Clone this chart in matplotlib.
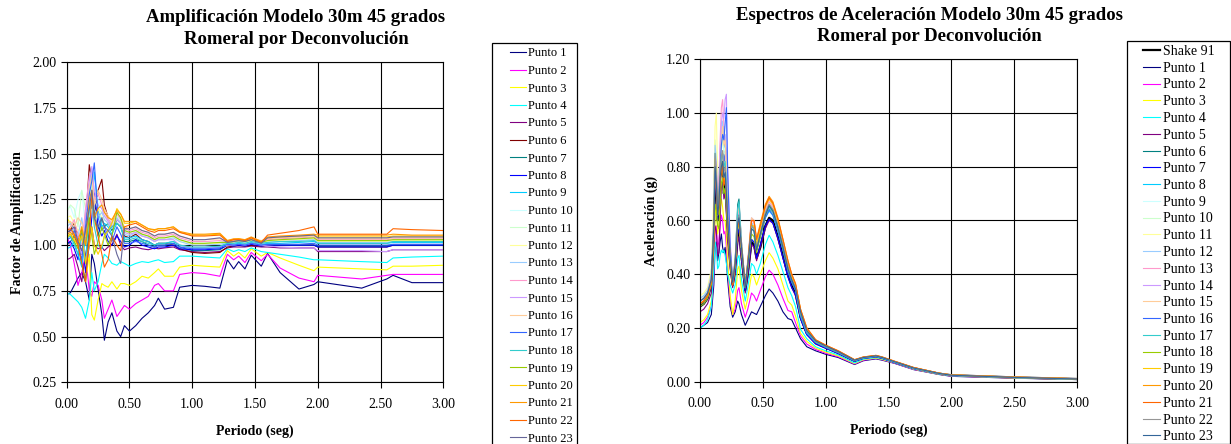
"""Amplification factors and acceleration spectra for the 30 m / 45 degree model (Romeral, deconvolution)."""

from __future__ import annotations

import matplotlib

matplotlib.use("Agg")
import matplotlib.pyplot as plt
from matplotlib.patches import Rectangle

# ---------------------------------------------------------------- amplification
AMP_PERIOD = [0.00, 0.03, 0.06, 0.09, 0.12, 0.15, 0.18, 0.20, 0.22, 0.25, 0.28, 0.30, 0.33, 0.36, 0.40,
              0.43, 0.46, 0.50, 0.55, 0.60, 0.65, 0.70, 0.73, 0.78, 0.85, 0.90, 1.00, 1.10, 1.22, 1.28,
              1.33, 1.37, 1.42, 1.47, 1.55, 1.60, 1.70, 1.85, 1.97, 2.00, 2.35, 2.55, 2.60, 2.75, 3.00]

AMP_P01 = [0.73, 0.74, 0.78, 0.82, 0.85, 0.80, 0.70, 0.95, 0.90, 0.76, 0.62, 0.48, 0.58, 0.63, 0.53,
           0.50, 0.56, 0.53, 0.56, 0.60, 0.63, 0.67, 0.71, 0.65, 0.66, 0.77, 0.78, 0.775, 0.765, 0.92,
           0.87, 0.91, 0.87, 0.945, 0.885, 0.955, 0.85, 0.76, 0.785, 0.80, 0.765, 0.815, 0.835, 0.795, 0.795]
AMP_P02 = [1.05, 1.00, 0.90, 0.78, 0.85, 0.95, 0.75, 0.72, 0.80, 0.78, 0.70, 0.60, 0.65, 0.70, 0.61,
           0.64, 0.67, 0.65, 0.68, 0.70, 0.72, 0.78, 0.79, 0.75, 0.75, 0.84, 0.85, 0.845, 0.83, 0.95,
           0.92, 0.94, 0.905, 0.96, 0.915, 0.95, 0.875, 0.82, 0.80, 0.835, 0.815, 0.835, 0.84, 0.84, 0.84]
AMP_P03 = [1.15, 1.12, 1.05, 1.00, 0.90, 0.80, 0.95, 0.62, 0.59, 0.70, 0.79, 0.78, 0.77, 0.80, 0.76,
           0.79, 0.79, 0.78, 0.80, 0.83, 0.82, 0.85, 0.87, 0.83, 0.83, 0.88, 0.89, 0.885, 0.88, 0.97,
           0.94, 0.96, 0.93, 0.98, 0.94, 0.96, 0.93, 0.89, 0.86, 0.88, 0.87, 0.865, 0.885, 0.885, 0.89]
AMP_P04 = [0.74, 0.73, 0.71, 0.69, 0.66, 0.60, 0.70, 0.85, 0.75, 0.80, 0.90, 0.95, 0.93, 0.90, 0.89,
           0.91, 0.90, 0.885, 0.90, 0.91, 0.905, 0.915, 0.92, 0.905, 0.91, 0.94, 0.94, 0.935, 0.93, 0.98,
           0.965, 0.975, 0.965, 0.985, 0.965, 0.96, 0.95, 0.935, 0.92, 0.92, 0.91, 0.905, 0.93, 0.935, 0.94]
AMP_P05 = [0.92, 0.93, 0.95, 0.88, 0.80, 0.95, 1.05, 1.10, 1.00, 0.98, 0.99, 0.97, 0.99, 1.00, 1.06,
           1.00, 0.975, 0.985, 0.99, 0.98, 0.975, 0.985, 0.98, 0.985, 0.99, 0.975, 0.965, 0.96, 0.965, 0.985,
           0.99, 0.99, 0.99, 0.995, 0.99, 0.99, 0.985, 0.985, 0.985, 0.965, 0.965, 0.965, 0.975, 0.975, 0.975]
AMP_P06 = [1.07, 1.08, 1.12, 1.05, 0.95, 1.10, 1.44, 1.35, 1.15, 1.30, 1.36, 1.22, 1.15, 1.10, 1.12,
           1.10, 1.05, 1.04, 1.06, 1.03, 1.02, 1.00, 1.01, 1.01, 1.00, 0.98, 0.96, 0.955, 0.96, 0.99,
           0.995, 1.00, 0.995, 1.00, 0.995, 1.00, 1.00, 1.00, 1.00, 0.99, 0.99, 0.99, 1.00, 1.00, 1.00]
AMP_P07 = [1.00, 1.02, 1.05, 1.00, 0.90, 0.80, 1.10, 1.38, 1.20, 1.05, 1.15, 1.10, 1.12, 1.08, 1.14,
           1.12, 1.02, 1.02, 1.03, 1.02, 1.00, 0.99, 1.00, 1.00, 1.01, 0.99, 0.97, 0.97, 0.975, 1.00,
           1.00, 1.005, 1.00, 1.01, 1.00, 1.00, 1.00, 1.00, 1.00, 0.995, 0.995, 0.995, 1.00, 1.00, 1.00]
AMP_P08 = [1.01, 1.02, 0.98, 0.92, 1.10, 0.85, 1.00, 1.15, 1.30, 1.10, 1.05, 1.08, 1.02, 1.00, 1.05,
           1.02, 0.99, 1.00, 1.03, 1.00, 0.99, 0.98, 0.99, 0.99, 1.00, 0.98, 0.975, 0.975, 0.98, 1.00,
           0.995, 1.00, 0.995, 1.005, 0.995, 1.00, 1.00, 1.00, 1.00, 0.99, 0.99, 0.99, 1.00, 1.00, 1.00]
AMP_P09 = [0.98, 0.99, 1.02, 0.95, 0.88, 1.05, 1.25, 1.20, 1.40, 1.20, 1.10, 1.12, 1.10, 1.06, 1.12,
           1.10, 1.04, 1.04, 1.05, 1.03, 1.02, 1.00, 1.01, 1.01, 1.02, 1.00, 0.985, 0.985, 0.99, 1.01,
           1.005, 1.01, 1.005, 1.015, 1.005, 1.01, 1.01, 1.015, 1.02, 1.01, 1.01, 1.01, 1.015, 1.015, 1.015]
AMP_P10 = [1.20, 1.21, 1.15, 1.25, 1.30, 1.10, 1.20, 1.40, 1.30, 1.25, 1.20, 1.18, 1.15, 1.12, 1.16,
           1.14, 1.08, 1.07, 1.08, 1.06, 1.05, 1.03, 1.04, 1.04, 1.05, 1.03, 1.01, 1.01, 1.015, 1.02,
           1.02, 1.025, 1.02, 1.03, 1.02, 1.025, 1.03, 1.035, 1.04, 1.025, 1.025, 1.025, 1.03, 1.03, 1.03]
AMP_P11 = [1.18, 1.22, 1.20, 1.10, 1.30, 1.20, 1.15, 1.35, 1.25, 1.20, 1.18, 1.16, 1.14, 1.11, 1.15,
           1.13, 1.08, 1.07, 1.08, 1.06, 1.05, 1.03, 1.04, 1.04, 1.05, 1.03, 1.01, 1.01, 1.015, 1.02,
           1.02, 1.025, 1.02, 1.03, 1.02, 1.025, 1.03, 1.03, 1.035, 1.02, 1.02, 1.02, 1.025, 1.025, 1.025]
AMP_P12 = [1.15, 1.16, 1.12, 1.08, 1.10, 1.05, 1.30, 1.25, 1.10, 1.20, 1.15, 1.14, 1.12, 1.10, 1.15,
           1.12, 1.07, 1.06, 1.07, 1.05, 1.04, 1.02, 1.03, 1.03, 1.04, 1.02, 1.005, 1.005, 1.01, 1.015,
           1.015, 1.02, 1.015, 1.025, 1.015, 1.02, 1.025, 1.03, 1.035, 1.02, 1.02, 1.02, 1.025, 1.025, 1.025]
AMP_P13 = [1.10, 1.12, 1.08, 1.05, 1.15, 1.00, 1.30, 1.42, 1.20, 1.15, 1.18, 1.14, 1.12, 1.09, 1.15,
           1.12, 1.06, 1.05, 1.07, 1.05, 1.04, 1.02, 1.03, 1.03, 1.04, 1.02, 1.00, 1.00, 1.005, 1.015,
           1.01, 1.02, 1.01, 1.02, 1.01, 1.015, 1.02, 1.025, 1.03, 1.015, 1.015, 1.015, 1.02, 1.02, 1.02]
AMP_P14 = [1.08, 1.10, 1.14, 1.05, 1.00, 1.20, 1.38, 1.40, 1.25, 1.28, 1.22, 1.18, 1.14, 1.12, 1.17,
           1.14, 1.09, 1.08, 1.09, 1.07, 1.06, 1.04, 1.05, 1.05, 1.06, 1.04, 1.02, 1.02, 1.025, 1.02,
           1.025, 1.03, 1.025, 1.035, 1.02, 1.03, 1.035, 1.04, 1.045, 1.03, 1.03, 1.03, 1.035, 1.035, 1.035]
AMP_P15 = [1.06, 1.07, 1.10, 1.02, 0.95, 1.15, 1.35, 1.43, 1.30, 1.22, 1.20, 1.16, 1.13, 1.10, 1.14,
           1.12, 1.07, 1.06, 1.07, 1.05, 1.04, 1.02, 1.03, 1.03, 1.03, 1.00, 0.985, 0.985, 0.99, 1.00,
           1.00, 1.005, 1.00, 1.01, 1.00, 0.995, 0.99, 0.985, 0.985, 0.97, 0.97, 0.965, 0.975, 0.975, 0.975]
AMP_P16 = [1.12, 1.13, 1.10, 1.15, 1.12, 1.05, 1.32, 1.38, 1.22, 1.30, 1.25, 1.20, 1.16, 1.13, 1.18,
           1.15, 1.10, 1.09, 1.10, 1.08, 1.07, 1.05, 1.06, 1.06, 1.07, 1.05, 1.03, 1.03, 1.035, 1.025,
           1.03, 1.035, 1.03, 1.04, 1.025, 1.035, 1.04, 1.045, 1.05, 1.035, 1.035, 1.035, 1.04, 1.04, 1.04]
AMP_P17 = [1.03, 1.04, 1.08, 1.00, 0.92, 1.10, 1.28, 1.35, 1.45, 1.15, 1.08, 1.10, 1.05, 1.02, 1.10,
           1.06, 1.01, 1.01, 1.02, 1.01, 1.00, 0.99, 1.00, 1.00, 1.01, 0.99, 0.98, 0.98, 0.985, 1.005,
           1.00, 1.005, 1.00, 1.01, 1.00, 1.005, 1.005, 1.005, 1.01, 1.00, 1.00, 1.00, 1.005, 1.005, 1.005]
AMP_P18 = [1.04, 1.05, 1.00, 0.95, 1.05, 0.90, 1.20, 1.25, 1.10, 1.00, 0.98, 1.05, 1.08, 1.10, 1.12,
           1.10, 1.03, 1.03, 1.04, 1.02, 1.01, 1.00, 1.01, 1.01, 1.02, 1.00, 0.99, 0.99, 0.995, 1.01,
           1.01, 1.015, 1.01, 1.02, 1.01, 1.015, 1.02, 1.02, 1.025, 1.01, 1.01, 1.01, 1.02, 1.02, 1.02]
AMP_P19 = [1.05, 1.06, 1.02, 0.98, 1.08, 1.00, 1.15, 1.05, 0.95, 1.02, 1.10, 1.06, 1.00, 1.05, 1.18,
           1.15, 1.08, 1.07, 1.08, 1.06, 1.05, 1.03, 1.04, 1.04, 1.05, 1.03, 1.01, 1.01, 1.015, 1.015,
           1.02, 1.025, 1.02, 1.03, 1.015, 1.025, 1.03, 1.035, 1.04, 1.025, 1.025, 1.025, 1.03, 1.03, 1.03]
AMP_P20 = [1.04, 1.06, 1.03, 1.00, 1.05, 0.90, 1.00, 1.10, 1.00, 0.95, 1.00, 1.05, 1.08, 1.12, 1.20,
           1.17, 1.12, 1.12, 1.13, 1.11, 1.09, 1.08, 1.09, 1.09, 1.10, 1.07, 1.055, 1.055, 1.06, 1.025,
           1.03, 1.035, 1.025, 1.04, 1.02, 1.04, 1.045, 1.05, 1.055, 1.045, 1.045, 1.045, 1.05, 1.05, 1.05]
AMP_P21 = [1.06, 1.07, 1.05, 1.02, 1.10, 1.00, 1.25, 1.30, 1.15, 1.20, 1.22, 1.18, 1.15, 1.14, 1.19,
           1.17, 1.13, 1.13, 1.13, 1.11, 1.09, 1.085, 1.09, 1.09, 1.10, 1.075, 1.06, 1.06, 1.065, 1.025,
           1.035, 1.035, 1.03, 1.045, 1.02, 1.045, 1.05, 1.055, 1.06, 1.055, 1.055, 1.055, 1.06, 1.055, 1.055]
AMP_P22 = [1.08, 1.09, 1.06, 1.00, 0.90, 0.80, 1.05, 1.27, 1.15, 1.05, 0.95, 0.88, 0.92, 1.05, 1.00,
           0.97, 1.10, 1.11, 1.12, 1.10, 1.08, 1.07, 1.08, 1.08, 1.09, 1.07, 1.05, 1.05, 1.055, 1.02,
           1.03, 1.03, 1.025, 1.04, 1.015, 1.055, 1.065, 1.08, 1.10, 1.06, 1.06, 1.06, 1.09, 1.085, 1.08]
AMP_P23 = [1.07, 1.08, 1.10, 1.02, 0.97, 1.08, 1.20, 1.30, 1.15, 1.10, 1.15, 1.10, 1.08, 1.05, 0.95,
           0.90, 1.09, 1.09, 1.10, 1.08, 1.07, 1.05, 1.06, 1.06, 1.07, 1.05, 1.03, 1.03, 1.04, 1.015,
           1.02, 1.025, 1.02, 1.03, 1.01, 1.04, 1.045, 1.05, 1.055, 1.04, 1.04, 1.04, 1.045, 1.045, 1.045]

AMP_SERIES = [AMP_P01, AMP_P02, AMP_P03, AMP_P04, AMP_P05, AMP_P06, AMP_P07, AMP_P08, AMP_P09, AMP_P10,
              AMP_P11, AMP_P12, AMP_P13, AMP_P14, AMP_P15, AMP_P16, AMP_P17, AMP_P18, AMP_P19, AMP_P20,
              AMP_P21, AMP_P22, AMP_P23]
AMP_COLORS = ["#000080", "#FF00FF", "#FFFF00", "#00FFFF", "#800080", "#800000", "#008080", "#0000FF",
              "#00CCFF", "#CCFFFF", "#CCFFCC", "#FFFF99", "#99CCFF", "#FF99CC", "#CC99FF", "#FFCC99",
              "#3366FF", "#33CCCC", "#99CC00", "#FFCC00", "#FF9900", "#FF6600", "#666699"]

# ---------------------------------------------------------------- spectra
SA_PERIOD = [0.00, 0.03, 0.06, 0.09, 0.11, 0.12, 0.13, 0.14, 0.15, 0.16, 0.17, 0.18, 0.19, 0.20, 0.21, 0.22, 0.24,
             0.26, 0.28, 0.30, 0.31, 0.33, 0.36, 0.38, 0.41, 0.43, 0.45, 0.48, 0.52, 0.55, 0.58, 0.62, 0.66, 0.70,
             0.73, 0.76, 0.80, 0.85, 0.92, 1.00, 1.10, 1.23, 1.30, 1.40, 1.45, 1.55, 1.70, 1.90, 2.00, 2.50, 3.00]

SA_SHAKE91 = [0.28, 0.29, 0.31, 0.36, 0.55, 0.80, 0.72, 0.60, 0.66, 0.76, 0.81, 0.79, 0.70, 0.74, 0.68, 0.58, 0.45,
              0.36, 0.42, 0.54, 0.56, 0.47, 0.34, 0.40, 0.52, 0.51, 0.46, 0.50, 0.58, 0.61, 0.60, 0.54, 0.47, 0.40,
              0.36, 0.33, 0.24, 0.18, 0.145, 0.128, 0.108, 0.078, 0.088, 0.094, 0.088, 0.072, 0.050, 0.030, 0.024, 0.016, 0.010]
SA_P01 = [0.20, 0.21, 0.22, 0.25, 0.36, 0.50, 0.52, 0.45, 0.48, 0.52, 0.55, 0.50, 0.48, 0.50, 0.45, 0.38, 0.28,
          0.24, 0.26, 0.30, 0.29, 0.25, 0.21, 0.23, 0.26, 0.255, 0.25, 0.28, 0.32, 0.345, 0.33, 0.30, 0.26, 0.235,
          0.23, 0.20, 0.16, 0.13, 0.115, 0.102, 0.09, 0.064, 0.078, 0.085, 0.08, 0.068, 0.045, 0.027, 0.020, 0.013, 0.008]
SA_P02 = [0.21, 0.22, 0.24, 0.28, 0.40, 0.55, 0.58, 0.50, 0.52, 0.58, 0.62, 0.60, 0.55, 0.56, 0.50, 0.42, 0.30,
          0.25, 0.27, 0.34, 0.35, 0.29, 0.24, 0.27, 0.33, 0.32, 0.30, 0.34, 0.39, 0.415, 0.40, 0.36, 0.31, 0.265,
          0.26, 0.22, 0.17, 0.14, 0.12, 0.106, 0.093, 0.066, 0.080, 0.087, 0.082, 0.069, 0.046, 0.028, 0.021, 0.014, 0.009]
SA_P03 = [0.22, 0.23, 0.25, 0.30, 0.45, 0.62, 0.66, 0.55, 0.58, 0.64, 0.68, 0.65, 0.60, 0.60, 0.54, 0.45, 0.32,
          0.25, 0.30, 0.42, 0.43, 0.34, 0.27, 0.31, 0.40, 0.39, 0.36, 0.40, 0.45, 0.48, 0.46, 0.42, 0.36, 0.30,
          0.285, 0.245, 0.18, 0.15, 0.125, 0.11, 0.096, 0.068, 0.082, 0.088, 0.083, 0.070, 0.047, 0.028, 0.022, 0.014, 0.009]
SA_P04 = [0.20, 0.21, 0.23, 0.28, 0.42, 0.52, 0.50, 0.42, 0.43, 0.47, 0.49, 0.48, 0.49, 0.47, 0.44, 0.40, 0.36,
          0.33, 0.36, 0.46, 0.47, 0.38, 0.30, 0.35, 0.44, 0.43, 0.40, 0.44, 0.51, 0.545, 0.52, 0.47, 0.41, 0.35,
          0.32, 0.28, 0.195, 0.16, 0.13, 0.115, 0.10, 0.070, 0.084, 0.09, 0.085, 0.071, 0.048, 0.029, 0.022, 0.015, 0.009]
SA_P05 = [0.26, 0.27, 0.29, 0.33, 0.50, 0.58, 0.56, 0.47, 0.48, 0.60, 0.72, 0.75, 0.68, 0.70, 0.62, 0.52, 0.42,
          0.35, 0.40, 0.52, 0.54, 0.45, 0.33, 0.39, 0.51, 0.50, 0.45, 0.50, 0.57, 0.60, 0.59, 0.53, 0.46, 0.39,
          0.35, 0.32, 0.235, 0.175, 0.14, 0.124, 0.105, 0.076, 0.087, 0.093, 0.087, 0.071, 0.049, 0.030, 0.023, 0.016, 0.010]
SA_P06 = [0.29, 0.30, 0.32, 0.37, 0.58, 0.80, 0.74, 0.62, 0.66, 0.76, 0.80, 0.78, 0.70, 0.72, 0.66, 0.57, 0.45,
          0.37, 0.45, 0.66, 0.68, 0.52, 0.36, 0.44, 0.59, 0.57, 0.50, 0.55, 0.62, 0.645, 0.63, 0.57, 0.50, 0.42,
          0.38, 0.345, 0.25, 0.185, 0.148, 0.13, 0.11, 0.079, 0.089, 0.095, 0.089, 0.073, 0.050, 0.031, 0.024, 0.016, 0.010]
SA_P07 = [0.28, 0.29, 0.31, 0.36, 0.54, 0.76, 0.70, 0.60, 0.65, 0.75, 0.82, 0.86, 0.80, 0.90, 0.80, 0.62, 0.46,
          0.36, 0.42, 0.55, 0.57, 0.47, 0.34, 0.41, 0.53, 0.52, 0.46, 0.51, 0.58, 0.605, 0.59, 0.535, 0.46, 0.39,
          0.35, 0.325, 0.235, 0.175, 0.142, 0.125, 0.105, 0.076, 0.087, 0.093, 0.087, 0.071, 0.049, 0.030, 0.023, 0.016, 0.010]
SA_P08 = [0.29, 0.30, 0.32, 0.38, 0.60, 0.87, 0.78, 0.64, 0.68, 0.80, 0.88, 0.90, 0.95, 0.88, 0.78, 0.62, 0.47,
          0.37, 0.44, 0.62, 0.64, 0.50, 0.35, 0.43, 0.57, 0.56, 0.49, 0.54, 0.61, 0.635, 0.62, 0.56, 0.49, 0.41,
          0.37, 0.34, 0.245, 0.18, 0.146, 0.128, 0.108, 0.078, 0.088, 0.094, 0.088, 0.072, 0.050, 0.030, 0.024, 0.016, 0.010]
SA_P09 = [0.31, 0.32, 0.34, 0.40, 0.62, 0.85, 0.80, 0.66, 0.70, 0.82, 0.90, 0.92, 0.85, 0.88, 0.80, 0.64, 0.48,
          0.38, 0.45, 0.60, 0.62, 0.50, 0.36, 0.44, 0.58, 0.57, 0.50, 0.56, 0.63, 0.66, 0.64, 0.58, 0.51, 0.43,
          0.38, 0.35, 0.255, 0.19, 0.15, 0.132, 0.11, 0.080, 0.090, 0.096, 0.090, 0.074, 0.051, 0.031, 0.024, 0.016, 0.010]
SA_P10 = [0.31, 0.32, 0.34, 0.40, 0.64, 0.90, 0.84, 0.68, 0.70, 0.80, 0.86, 0.90, 0.86, 0.84, 0.76, 0.62, 0.48,
          0.38, 0.45, 0.59, 0.61, 0.50, 0.36, 0.44, 0.58, 0.57, 0.50, 0.56, 0.63, 0.66, 0.64, 0.58, 0.51, 0.43,
          0.38, 0.35, 0.255, 0.19, 0.15, 0.132, 0.11, 0.080, 0.090, 0.096, 0.090, 0.074, 0.051, 0.031, 0.024, 0.016, 0.010]
SA_P11 = [0.32, 0.33, 0.35, 0.42, 0.70, 0.95, 1.00, 0.78, 0.70, 0.78, 0.84, 0.86, 0.80, 0.82, 0.74, 0.62, 0.48,
          0.38, 0.45, 0.58, 0.60, 0.50, 0.36, 0.44, 0.57, 0.56, 0.50, 0.55, 0.62, 0.65, 0.63, 0.57, 0.50, 0.42,
          0.38, 0.35, 0.25, 0.188, 0.15, 0.131, 0.11, 0.080, 0.090, 0.096, 0.090, 0.074, 0.051, 0.031, 0.024, 0.016, 0.010]
SA_P12 = [0.31, 0.32, 0.34, 0.40, 0.62, 0.88, 0.82, 0.68, 0.72, 0.84, 0.92, 0.97, 0.90, 0.92, 0.82, 0.64, 0.48,
          0.38, 0.45, 0.61, 0.63, 0.51, 0.36, 0.44, 0.59, 0.58, 0.51, 0.56, 0.64, 0.67, 0.65, 0.59, 0.51, 0.43,
          0.385, 0.355, 0.26, 0.19, 0.152, 0.133, 0.112, 0.080, 0.090, 0.096, 0.090, 0.074, 0.051, 0.031, 0.024, 0.016, 0.010]
SA_P13 = [0.30, 0.31, 0.33, 0.39, 0.60, 0.84, 0.80, 0.68, 0.74, 0.90, 1.02, 1.05, 0.95, 0.90, 0.80, 0.64, 0.48,
          0.38, 0.45, 0.62, 0.64, 0.51, 0.36, 0.44, 0.60, 0.59, 0.51, 0.57, 0.64, 0.67, 0.65, 0.59, 0.52, 0.43,
          0.385, 0.355, 0.26, 0.19, 0.152, 0.133, 0.112, 0.080, 0.090, 0.096, 0.090, 0.074, 0.051, 0.031, 0.024, 0.016, 0.010]
SA_P14 = [0.30, 0.31, 0.33, 0.39, 0.60, 0.84, 0.78, 0.66, 0.72, 0.86, 0.96, 1.00, 0.98, 1.05, 1.07, 0.80, 0.52,
          0.38, 0.46, 0.64, 0.66, 0.52, 0.36, 0.45, 0.61, 0.60, 0.52, 0.58, 0.65, 0.68, 0.66, 0.60, 0.52, 0.44,
          0.39, 0.36, 0.265, 0.195, 0.154, 0.134, 0.113, 0.081, 0.091, 0.097, 0.091, 0.075, 0.052, 0.032, 0.025, 0.017, 0.011]
SA_P15 = [0.30, 0.31, 0.33, 0.39, 0.60, 0.82, 0.78, 0.66, 0.70, 0.82, 0.90, 0.95, 0.88, 0.90, 0.82, 0.64, 0.48,
          0.38, 0.46, 0.63, 0.65, 0.52, 0.36, 0.45, 0.61, 0.60, 0.52, 0.58, 0.65, 0.68, 0.66, 0.60, 0.52, 0.44,
          0.39, 0.36, 0.265, 0.195, 0.154, 0.134, 0.113, 0.081, 0.091, 0.097, 0.091, 0.075, 0.052, 0.032, 0.025, 0.017, 0.011]
SA_P16 = [0.29, 0.30, 0.32, 0.38, 0.58, 0.82, 0.76, 0.64, 0.68, 0.80, 0.88, 0.92, 0.90, 0.96, 1.02, 0.78, 0.50,
          0.37, 0.44, 0.60, 0.62, 0.50, 0.35, 0.43, 0.58, 0.57, 0.49, 0.54, 0.61, 0.64, 0.62, 0.56, 0.49, 0.41,
          0.37, 0.34, 0.245, 0.18, 0.146, 0.128, 0.108, 0.078, 0.088, 0.094, 0.088, 0.072, 0.050, 0.030, 0.024, 0.016, 0.010]
SA_P17 = [0.29, 0.30, 0.32, 0.38, 0.58, 0.85, 0.76, 0.62, 0.66, 0.78, 0.84, 0.85, 0.80, 0.82, 0.74, 0.60, 0.46,
          0.37, 0.45, 0.64, 0.67, 0.51, 0.35, 0.43, 0.58, 0.57, 0.49, 0.55, 0.62, 0.65, 0.63, 0.57, 0.50, 0.42,
          0.38, 0.345, 0.25, 0.185, 0.148, 0.13, 0.11, 0.079, 0.089, 0.095, 0.089, 0.073, 0.050, 0.031, 0.024, 0.016, 0.010]
SA_P18 = [0.28, 0.29, 0.31, 0.36, 0.52, 0.66, 0.64, 0.58, 0.57, 0.66, 0.74, 0.76, 0.70, 0.72, 0.65, 0.56, 0.44,
          0.36, 0.43, 0.57, 0.59, 0.48, 0.35, 0.42, 0.55, 0.54, 0.48, 0.54, 0.62, 0.66, 0.64, 0.58, 0.50, 0.42,
          0.38, 0.35, 0.255, 0.19, 0.15, 0.132, 0.11, 0.080, 0.090, 0.096, 0.090, 0.074, 0.051, 0.031, 0.024, 0.016, 0.010]
SA_P19 = [0.29, 0.30, 0.32, 0.37, 0.56, 0.83, 0.76, 0.62, 0.66, 0.76, 0.80, 0.82, 0.74, 0.76, 0.70, 0.60, 0.46,
          0.37, 0.44, 0.58, 0.60, 0.50, 0.36, 0.43, 0.58, 0.58, 0.51, 0.57, 0.65, 0.68, 0.66, 0.60, 0.52, 0.44,
          0.39, 0.36, 0.265, 0.195, 0.154, 0.134, 0.113, 0.081, 0.091, 0.097, 0.091, 0.075, 0.052, 0.032, 0.025, 0.017, 0.011]
SA_P20 = [0.29, 0.30, 0.32, 0.37, 0.56, 0.80, 0.74, 0.62, 0.66, 0.76, 0.80, 0.82, 0.74, 0.76, 0.70, 0.60, 0.46,
          0.36, 0.44, 0.58, 0.60, 0.50, 0.36, 0.44, 0.60, 0.60, 0.53, 0.59, 0.66, 0.69, 0.67, 0.61, 0.53, 0.45,
          0.40, 0.365, 0.27, 0.20, 0.156, 0.136, 0.115, 0.082, 0.092, 0.098, 0.092, 0.076, 0.053, 0.032, 0.025, 0.017, 0.011]
SA_P21 = [0.29, 0.30, 0.32, 0.37, 0.55, 0.78, 0.73, 0.62, 0.65, 0.74, 0.78, 0.80, 0.73, 0.75, 0.69, 0.60, 0.46,
          0.36, 0.44, 0.58, 0.60, 0.50, 0.36, 0.44, 0.60, 0.60, 0.53, 0.58, 0.655, 0.685, 0.665, 0.605, 0.53, 0.45,
          0.40, 0.365, 0.27, 0.20, 0.156, 0.136, 0.115, 0.082, 0.092, 0.098, 0.092, 0.076, 0.053, 0.032, 0.025, 0.017, 0.011]
SA_P22 = [0.30, 0.31, 0.33, 0.38, 0.58, 0.85, 0.78, 0.64, 0.68, 0.78, 0.84, 0.86, 0.78, 0.80, 0.72, 0.61, 0.47,
          0.37, 0.45, 0.60, 0.62, 0.50, 0.36, 0.44, 0.58, 0.57, 0.50, 0.55, 0.63, 0.66, 0.64, 0.58, 0.51, 0.43,
          0.38, 0.35, 0.255, 0.19, 0.15, 0.132, 0.11, 0.080, 0.090, 0.096, 0.090, 0.074, 0.051, 0.031, 0.024, 0.016, 0.010]
SA_P23 = [0.30, 0.31, 0.33, 0.38, 0.57, 0.80, 0.74, 0.62, 0.66, 0.76, 0.80, 0.82, 0.76, 0.78, 0.70, 0.60, 0.46,
          0.37, 0.44, 0.59, 0.61, 0.50, 0.35, 0.43, 0.57, 0.56, 0.49, 0.55, 0.62, 0.655, 0.635, 0.575, 0.50, 0.42,
          0.38, 0.345, 0.26, 0.19, 0.152, 0.133, 0.112, 0.080, 0.090, 0.096, 0.090, 0.074, 0.051, 0.031, 0.024, 0.016, 0.010]

SA_SERIES = [SA_P01, SA_P02, SA_P03, SA_P04, SA_P05, SA_P06, SA_P07, SA_P08, SA_P09, SA_P10,
             SA_P11, SA_P12, SA_P13, SA_P14, SA_P15, SA_P16, SA_P17, SA_P18, SA_P19, SA_P20,
             SA_P21, SA_P22, SA_P23]
SA_COLORS = ["#000080", "#FF00FF", "#FFFF00", "#00FFFF", "#800080", "#008080", "#0000FF", "#00CCFF",
             "#CCFFFF", "#CCFFCC", "#FFFF99", "#99CCFF", "#FF99CC", "#CC99FF", "#FFCC99", "#3366FF",
             "#33CCCC", "#99CC00", "#FFCC00", "#FF9900", "#FF6600", "#969696", "#336699"]

POINT_LABELS = [f"Punto {i}" for i in range(1, 24)]
X_TICKS = [0.0, 0.5, 1.0, 1.5, 2.0, 2.5, 3.0]

FIG_W, FIG_H = 1231, 444


def fx(px: float) -> float:
    return px / FIG_W


def fy(py: float) -> float:
    return 1.0 - py / FIG_H


def style_axes(ax, yticks: list[float]) -> None:
    ax.set_xlim(0, 3)
    ax.set_ylim(yticks[0], yticks[-1])
    ax.set_xticks(X_TICKS)
    ax.set_yticks(yticks)
    ax.xaxis.set_major_formatter(lambda v, _: f"{v:.2f}")
    ax.yaxis.set_major_formatter(lambda v, _: f"{v:.2f}")
    ax.grid(True, color="black", linewidth=0.8)
    ax.set_axisbelow(True)
    for spine in ax.spines.values():
        spine.set_color("black")
        spine.set_linewidth(0.8)
    ax.tick_params(direction="out", length=4, width=0.8, labelsize=10, colors="black")
    ax.tick_params(axis="x", pad=7)
    ax.tick_params(axis="y", pad=3)


def add_legend(fig, ax, handles, labels, box, anchor, size, spacing):
    left, top, right, bottom = box
    fig.add_artist(Rectangle((fx(left), fy(bottom)), fx(right) - fx(left), fy(top) - fy(bottom),
                             transform=fig.transFigure, fill=False, edgecolor="black", linewidth=0.9))
    ax.legend(handles, labels, loc="upper left", bbox_to_anchor=(fx(anchor[0]), fy(anchor[1])),
              bbox_transform=fig.transFigure, frameon=False, borderpad=0, borderaxespad=0,
              fontsize=size, handlelength=1.25, handletextpad=0.2, labelspacing=spacing)


def main() -> None:
    plt.rcParams["font.family"] = ["Liberation Serif", "DejaVu Serif"]
    fig = plt.figure(figsize=(FIG_W / 100, FIG_H / 100), dpi=100)

    # amplification factors
    ax1 = fig.add_axes([fx(66.7), fy(382.3), fx(443.3) - fx(66.7), fy(62.3) - fy(382.3)])
    amp_lines = []
    for values, color in zip(AMP_SERIES, AMP_COLORS):
        (line,) = ax1.plot(AMP_PERIOD, values, color=color, linewidth=0.8)
        amp_lines.append(line)
    style_axes(ax1, [0.25, 0.50, 0.75, 1.00, 1.25, 1.50, 1.75, 2.00])
    ax1.set_xlabel("Periodo (seg)", fontsize=10, fontweight="bold", labelpad=10)
    ax1.set_ylabel("Factor de Amplificación", fontsize=10, fontweight="bold", labelpad=6)
    fig.text(fx(296), fy(28.5), "Amplificación Modelo 30m 45 grados\nRomeral por Deconvolución",
             ha="center", va="center", fontsize=13.5, fontweight="bold", linespacing=1.35)
    add_legend(fig, ax1, amp_lines, POINT_LABELS, (492, 43, 577, 450), (510, 47.5), 9, 0.44)

    # acceleration spectra
    ax2 = fig.add_axes([fx(700), fy(381.7), fx(1077) - fx(700), fy(59.3) - fy(381.7)])
    (shake,) = ax2.plot(SA_PERIOD, SA_SHAKE91, color="black", linewidth=1.6)
    sa_lines = []
    for values, color in zip(SA_SERIES, SA_COLORS):
        (line,) = ax2.plot(SA_PERIOD, values, color=color, linewidth=0.8)
        sa_lines.append(line)
    style_axes(ax2, [0.00, 0.20, 0.40, 0.60, 0.80, 1.00, 1.20])
    ax2.set_xlabel("Periodo (seg)", fontsize=10, fontweight="bold", labelpad=10)
    ax2.set_ylabel("Aceleración (g)", fontsize=10, fontweight="bold", labelpad=6)
    fig.text(fx(929), fy(26), "Espectros de Aceleración Modelo 30m 45 grados\nRomeral por Deconvolución",
             ha="center", va="center", fontsize=13.5, fontweight="bold", linespacing=1.35)
    add_legend(fig, ax2, [shake] + sa_lines, ["Shake 91"] + POINT_LABELS,
               (1127, 41, 1230, 443.5), (1143, 45), 10, 0.27)

    fig.savefig("out.png", dpi=100)
    plt.close(fig)


if __name__ == "__main__":
    main()
